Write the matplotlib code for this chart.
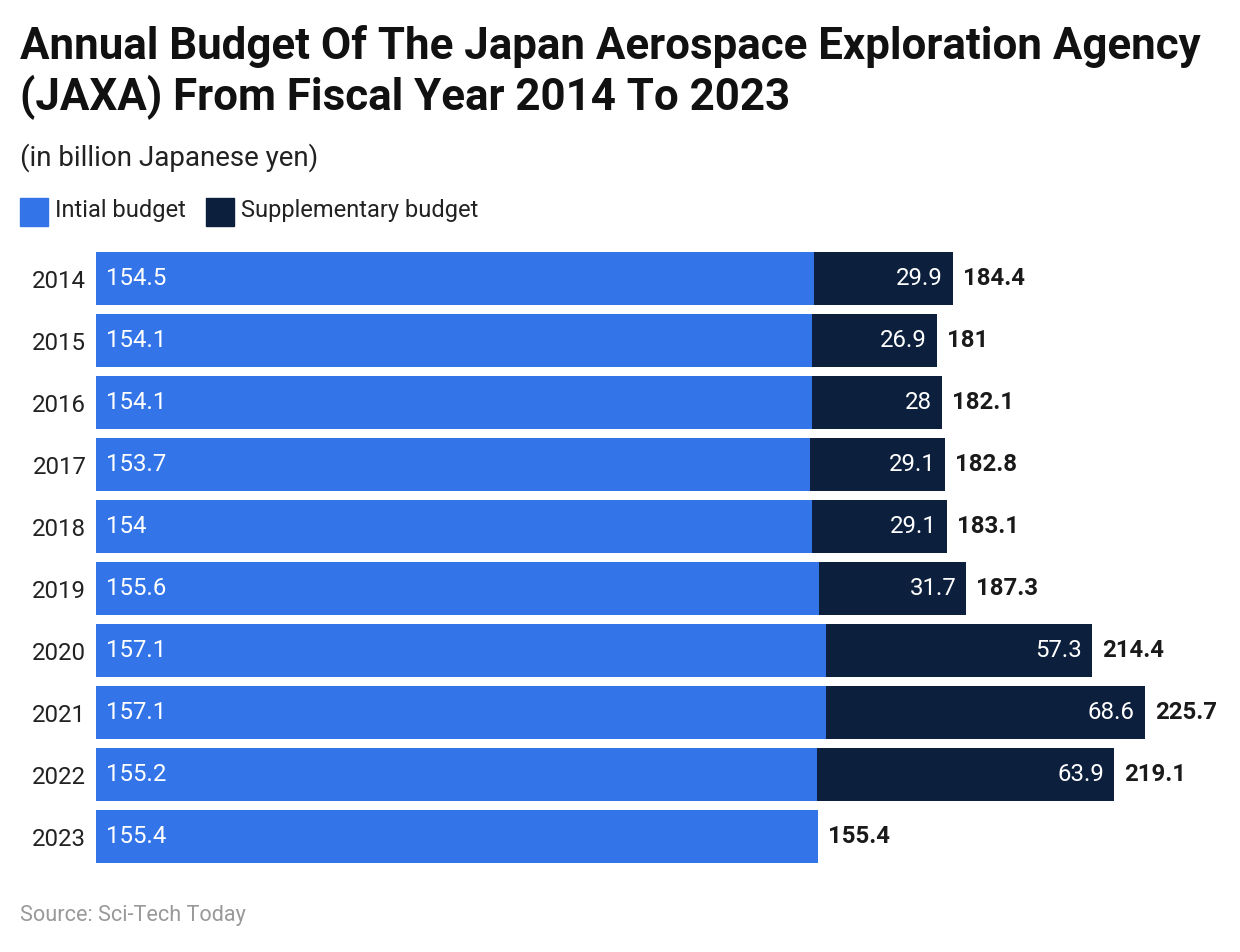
import matplotlib
matplotlib.use("Agg")
import matplotlib.pyplot as plt
from matplotlib.patches import Rectangle

plt.rcParams['font.family'] = ['Roboto', 'DejaVu Sans']

years = ["2014", "2015", "2016", "2017", "2018", "2019", "2020", "2021", "2022", "2023"]
initial = [154.5, 154.1, 154.1, 153.7, 154.0, 155.6, 157.1, 157.1, 155.2, 155.4]
supplementary = [29.9, 26.9, 28.0, 29.1, 29.1, 31.7, 57.3, 68.6, 63.9, 0.0]
totals = [184.4, 181, 182.1, 182.8, 183.1, 187.3, 214.4, 225.7, 219.1, 155.4]

BLUE = "#3375E8"
NAVY = "#0C203D"
W, H = 1240, 952
LBL = 17.3

fig = plt.figure(figsize=(W / 100, H / 100), dpi=100)
# axes: left 96px, right 1240px, top 247.5px, bottom 867.5px
ax = fig.add_axes([96 / W, 1 - 867.5 / H, (1240 - 96) / W, (867.5 - 247.5) / H])

y = list(range(len(years)))
ax.barh(y, initial, height=0.855, color=BLUE)
ax.barh(y, supplementary, left=initial, height=0.855, color=NAVY)
ax.set_xlim(0, 1144 / 4.647)
ax.set_ylim(len(years) - 0.5, -0.5)
ax.set_yticks(y)
ax.set_yticklabels(years, fontsize=LBL, color="#222222")
ax.tick_params(axis='y', length=0, pad=7)
ax.set_xticks([])
for s in ax.spines.values():
    s.set_visible(False)

px = 1 / 4.647
for i in range(len(years)):
    ax.text(10 * px, i, f"{initial[i]:g}", color="white", fontsize=LBL,
            va="center", ha="left")
    end = initial[i] + supplementary[i]
    if supplementary[i] > 0:
        ax.text(end - 10 * px, i, f"{supplementary[i]:g}", color="white", fontsize=LBL,
                va="center", ha="right")
    ax.text(end + 10 * px, i, f"{totals[i]:g}", color="#1a1a1a", fontsize=LBL,
            fontweight="bold", va="center", ha="left")

fig.text(20 / W, 1 - 47 / H,
         "Annual Budget Of The Japan Aerospace Exploration Agency",
         fontsize=31.6, fontweight="bold", color="#111111", va="center", ha="left")
fig.text(20 / W, 1 - 97 / H,
         "(JAXA) From Fiscal Year 2014 To 2023",
         fontsize=31.6, fontweight="bold", color="#111111", va="center", ha="left")
fig.text(20 / W, 1 - 158 / H, "(in billion Japanese yen)", fontsize=20,
         color="#222222", va="center", ha="left")

# legend
for x0, col, lab, tx in [(20, BLUE, "Intial budget", 55), (206, NAVY, "Supplementary budget", 241)]:
    fig.patches.append(Rectangle((x0 / W, 1 - 226 / H), 28 / W, 28 / H,
                                 transform=fig.transFigure, color=col))
    fig.text(tx / W, 1 - 211 / H, lab, fontsize=17, color="#222222", va="center", ha="left")

fig.text(20 / W, 1 - 916 / H, "Source: Sci-Tech Today", fontsize=15.6,
         color="#999999", va="center", ha="left")

fig.savefig("out.png", dpi=100, facecolor="white")
